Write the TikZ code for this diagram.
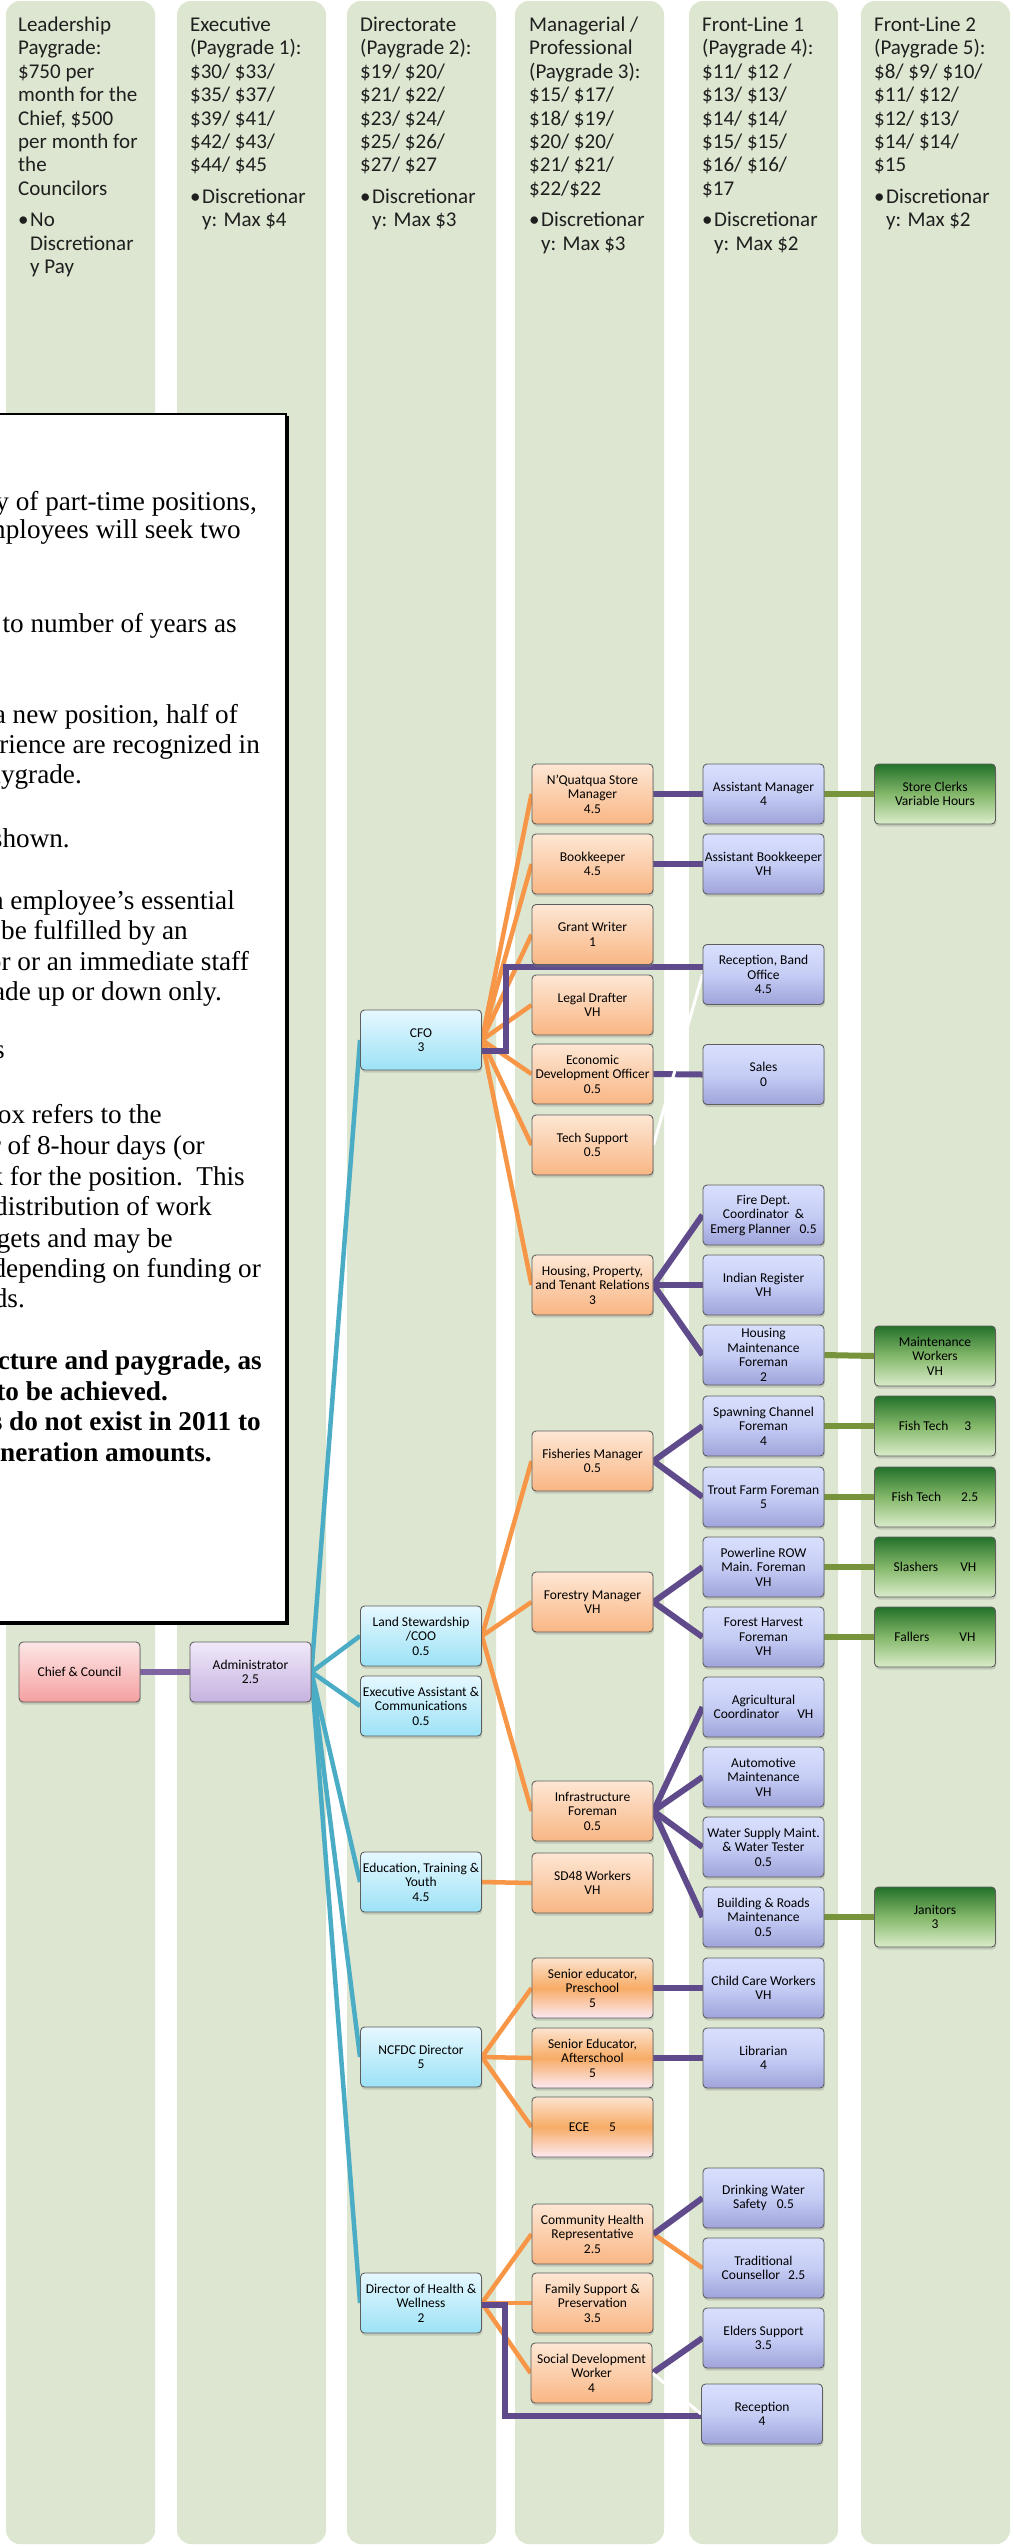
\documentclass[tikz,border=0pt]{standalone}
\usepackage{fontspec}
\setmainfont{Carlito}
\newfontfamily\serifTNR{Liberation Serif}
\usetikzlibrary{shadows}
\definecolor{colBg}{HTML}{DDE6D0}
\definecolor{edgeC}{HTML}{5E5E5E}
\definecolor{cTeal}{HTML}{4BACC6}
\definecolor{cOrange}{HTML}{F79646}
\definecolor{cPurp}{HTML}{5F4B8B}
\definecolor{cPurpL}{HTML}{8064A2}
\definecolor{cOlive}{HTML}{77933C}
\definecolor{redT}{HTML}{FDE6E6}
\definecolor{redB}{HTML}{F5A0A0}
\definecolor{lavT}{HTML}{F0E9F9}
\definecolor{lavB}{HTML}{C6B2E0}
\definecolor{cyT}{HTML}{E6F8FF}
\definecolor{cyB}{HTML}{9CE2F6}
\definecolor{orT}{HTML}{FDE7D4}
\definecolor{orB}{HTML}{F9B684}
\definecolor{seT}{HTML}{FCE3CE}
\definecolor{seM}{HTML}{F7AC66}
\definecolor{seB}{HTML}{FCE9F3}
\definecolor{blT}{HTML}{D9E0FD}
\definecolor{blM}{HTML}{C6CDF5}
\definecolor{blB}{HTML}{9FA3DA}
\definecolor{grT}{HTML}{23712A}
\definecolor{grM}{HTML}{84B86A}
\definecolor{grB}{HTML}{DAECCB}
\pgfdeclarelayer{bg}
\pgfdeclarelayer{lines}
\pgfsetlayers{bg,lines,main}
\begin{document}
\begin{tikzpicture}[x=1pt,y=-1pt,
  box/.style={rounded corners=4pt, draw=edgeC, line width=0.9pt,
    minimum width=121pt, minimum height=60pt, inner sep=1pt, align=center,
    font=\fontsize{13.5}{14.5}\selectfont, text=black,
    drop shadow={opacity=0.3, shadow xshift=0.8pt, shadow yshift=-2.5pt}},
  bxRed/.style={box, top color=redT, bottom color=redB},
  bxLav/.style={box, top color=lavT, bottom color=lavB},
  bxCy/.style={box, top color=cyT, bottom color=cyB},
  bxOr/.style={box, top color=orT, bottom color=orB},
  bxSe/.style={box, top color=seT, bottom color=seB, middle color=seM},
  bxBl/.style={box, top color=blT, bottom color=blB, middle color=blM},
  bxGr/.style={box, top color=grT, bottom color=grB, middle color=grM},
  hdr/.style={anchor=base west, inner sep=0pt, font=\fontsize{21}{23.4}\selectfont, text=black!88},
  tbl/.style={anchor=base east, inner sep=0pt, font=\serifTNR\fontsize{27.2}{31}\selectfont, text=black},
  colbox/.style={fill=colBg, rounded corners=14pt},
  lnTeal/.style={draw=cTeal, line width=4.5pt},
  lnOr/.style={draw=cOrange, line width=4.5pt},
  lnPu/.style={draw=cPurp, line width=6pt},
  lnPuL/.style={draw=cPurpL, line width=6pt},
  lnOl/.style={draw=cOlive, line width=6pt},
  lnWh/.style={draw=white, line width=3pt}
]
\useasboundingbox (0,0) rectangle (1014,2546);

% ---------- columns and text box ----------
\begin{pgfonlayer}{bg}
\fill[white] (0,0) rectangle (1014,2546);
\foreach \cl [count=\c] in {6,177,347,515,689,861}
  \path[colbox] (\cl,1) rectangle ++(149,2543);
\fill[black] (-20,416) rectangle (288.5,1624.5);
\draw[fill=white, draw=black, line width=2pt] (-20,414) rectangle (286,1622);
\end{pgfonlayer}

\foreach \rx/\by/\tx [count=\k] in {
  257/510/{ty of part-time positions,},
  241/538/{mployees will seek two},
  237/632/{r to number of years as},
  238/723/{a new position, half of},
  260/753/{xperience are recognized in},
  82/783/{paygrade.},
  70/847/{shown.},
  235/909/{an employee’s essential},
  188/939/{be fulfilled by an},
  249/970/{sor or an immediate staff},
  222/1000/{grade up or down only.},
  5/1058/{s},
  162/1123/{box refers to the},
  205/1154/{er of 8-hour days (or},
  245/1185/{week for the position.~~This},
  212/1215/{distribution of work},
  173/1247/{targets and may be},
  261/1277/{depending on funding or},
  25/1307/{needs.},
  262/1369/{\bfseries structure and paygrade, as},
  168/1400/{\bfseries to be achieved.},
  261/1430/{\bfseries positions do not exist in 2011 to},
  212/1461/{\bfseries remuneration amounts.}}
  \node[tbl, name=tb\k] at (\rx,\by) {\tx};

% ---------- column headers ----------
\node[hdr] (hd1) at (18,31.5) {\begin{tabular}[t]{@{}l@{}}Leadership\\Paygrade:\\\$750 per\\month for the\\Chief, \$500\\per month for\\the\\Councilors\\[8pt]\makebox[12pt][l]{•}No\\\hspace{12pt}Discretionar\\\hspace{12pt}y Pay\end{tabular}};
\node[hdr] (hd2) at (190,31.5) {\begin{tabular}[t]{@{}l@{}}Executive\\(Paygrade 1):\\\$30/ \$33/\\\$35/ \$37/\\\$39/ \$41/\\\$42/ \$43/\\\$44/ \$45\\[8pt]\makebox[12pt][l]{•}Discretionar\\\hspace{12pt}y: Max \$4\end{tabular}};
\node[hdr] (hd3) at (360,31.5) {\begin{tabular}[t]{@{}l@{}}Directorate\\(Paygrade 2):\\\$19/ \$20/\\\$21/ \$22/\\\$23/ \$24/\\\$25/ \$26/\\\$27/ \$27\\[8pt]\makebox[12pt][l]{•}Discretionar\\\hspace{12pt}y: Max \$3\end{tabular}};
\node[hdr] (hd4) at (529,31.5) {\begin{tabular}[t]{@{}l@{}}Managerial /\\Professional\\(Paygrade 3):\\\$15/ \$17/\\\$18/ \$19/\\\$20/ \$20/\\\$21/ \$21/\\\$22/\$22\\[8pt]\makebox[12pt][l]{•}Discretionar\\\hspace{12pt}y: Max \$3\end{tabular}};
\node[hdr] (hd5) at (702,31.5) {\begin{tabular}[t]{@{}l@{}}Front-Line 1\\(Paygrade 4):\\\$11/ \$12 /\\\$13/ \$13/\\\$14/ \$14/\\\$15/ \$15/\\\$16/ \$16/\\\$17\\[8pt]\makebox[12pt][l]{•}Discretionar\\\hspace{12pt}y: Max \$2\end{tabular}};
\node[hdr] (hd6) at (874,31.5) {\begin{tabular}[t]{@{}l@{}}Front-Line 2\\(Paygrade 5):\\\$8/ \$9/ \$10/\\\$11/ \$12/\\\$12/ \$13/\\\$14/ \$14/\\\$15\\[8pt]\makebox[12pt][l]{•}Discretionar\\\hspace{12pt}y: Max \$2\end{tabular}};

% ---------- nodes ----------
\node[bxRed] (chief) at (79.5,1672) {Chief \& Council};
\node[bxLav] (admin) at (250.5,1672) {Administrator\\2.5};

\node[bxCy] (cfo) at (421,1040) {CFO\\3};
\node[bxCy] (ls)  at (421,1636) {Land Stewardship\\/COO\\0.5};
\node[bxCy] (exa) at (421,1706) {Executive Assistant \&\\Communications\\0.5};
\node[bxCy] (edu) at (421,1882) {Education, Training \&\\Youth\\4.5};
\node[bxCy] (ncf) at (421,2057) {NCFDC Director\\5};
\node[bxCy] (doh) at (421,2303) {Director of Health \&\\Wellness\\2};

\node[bxOr] (nq)  at (592.5,794)  {N'Quatqua Store\\Manager\\4.5};
\node[bxOr] (bk)  at (592.5,864)  {Bookkeeper\\4.5};
\node[bxOr] (gw)  at (592.5,934.5){Grant Writer\\1};
\node[bxOr] (ld)  at (592.5,1005) {Legal Drafter\\VH};
\node[bxOr] (ed)  at (592.5,1074) {Economic\\Development Officer\\0.5};
\node[bxOr] (ts)  at (592.5,1145) {Tech Support\\0.5};
\node[bxOr] (hp)  at (592.5,1285) {Housing, Property,\\and Tenant Relations\\3};
\node[bxOr] (fm)  at (592.5,1461) {Fisheries Manager\\0.5};
\node[bxOr] (fo)  at (592.5,1602) {Forestry Manager\\VH};
\node[bxOr] (inf) at (592.5,1811) {Infrastructure\\Foreman\\0.5};
\node[bxOr] (sd)  at (592.5,1883) {SD48 Workers\\VH};
\node[bxSe] (sp)  at (592.5,1988) {Senior educator,\\Preschool\\5};
\node[bxSe] (sa)  at (592.5,2058) {Senior Educator,\\Afterschool\\5};
\node[bxSe] (ece) at (592.5,2127) {ECE\hspace{20pt}5};
\node[bxOr] (ch)  at (592.5,2234) {Community Health\\Representative\\2.5};
\node[bxOr] (fs)  at (592.5,2303) {Family Support \&\\Preservation\\3.5};
\node[bxOr] (sdw) at (591.5,2373) {Social Development\\Worker\\4};

\node[bxBl] (am)  at (763.5,794)   {Assistant Manager\\4};
\node[bxBl] (ab)  at (763.5,864)   {Assistant Bookkeeper\\VH};
\node[bxBl] (rbo) at (763.5,974.5) {Reception, Band\\Office\\4.5};
\node[bxBl] (sal) at (763.5,1074.5){Sales\\0};
\node[bxBl] (fire) at (763.5,1215) {Fire Dept.\\Coordinator\ \ \&\\Emerg Planner\hspace{9pt}0.5};
\node[bxBl] (ir)  at (763.5,1285)  {Indian Register\\VH};
\node[bxBl] (hm)  at (763.5,1355)  {Housing\\Maintenance\\Foreman\\2};
\node[bxBl] (spc) at (763.5,1426)  {Spawning Channel\\Foreman\\4};
\node[bxBl] (tf)  at (763.5,1497)  {Trout Farm Foreman\\5};
\node[bxBl] (pl)  at (763.5,1567)  {Powerline ROW\\Main. Foreman\\VH};
\node[bxBl] (fh)  at (763.5,1637)  {Forest Harvest\\Foreman\\VH};
\node[bxBl] (agr) at (763.5,1707)  {Agricultural\\Coordinator\hspace{18pt}VH};
\node[bxBl] (aut) at (763.5,1777)  {Automotive\\Maintenance\\VH};
\node[bxBl] (ws)  at (763.5,1847)  {Water Supply Maint.\\\& Water Tester\\0.5};
\node[bxBl] (br)  at (763.5,1917)  {Building \& Roads\\Maintenance\\0.5};
\node[bxBl] (cc)  at (763.5,1988)  {Child Care Workers\\VH};
\node[bxBl] (lib) at (763.5,2058)  {Librarian\\4};
\node[bxBl] (dw)  at (763.5,2198)  {Drinking Water\\Safety\hspace{10pt}0.5};
\node[bxBl] (tc)  at (763.5,2268)  {Traditional\\Counsellor\hspace{8pt}2.5};
\node[bxBl] (es)  at (763.5,2338)  {Elders Support\\3.5};
\node[bxBl] (rec) at (762,2414)    {Reception\\4};

\node[bxGr] (sc)  at (935,794)  {Store Clerks\\Variable Hours};
\node[bxGr] (mw)  at (935,1356) {Maintenance\\Workers\\VH};
\node[bxGr] (ft1) at (935,1426) {Fish Tech\hspace{16pt}3};
\node[bxGr] (ft2) at (935,1497) {Fish Tech\hspace{20pt}2.5};
\node[bxGr] (sl)  at (935,1567) {Slashers\hspace{22pt}VH};
\node[bxGr] (fa)  at (935,1637) {Fallers\hspace{30pt}VH};
\node[bxGr] (jan) at (935,1917) {Janitors\\3};

% ---------- connectors ----------
\begin{pgfonlayer}{lines}
\draw[lnPuL] (chief.east) -- (admin.west);
\foreach \t in {cfo,ls,exa,edu,ncf,doh}
  \draw[lnTeal] (admin.east) -- (\t.west);
\foreach \t in {nq,bk,gw,ld,ed,ts,hp}
  \draw[lnOr] (cfo.east) -- (\t.west);
\foreach \t in {fm,fo,inf}
  \draw[lnOr] (ls.east) -- (\t.west);
\draw[lnOr] (edu.east) -- (sd.west);
\foreach \t in {sp,sa,ece}
  \draw[lnOr] (ncf.east) -- (\t.west);
\foreach \t in {ch,fs,sdw}
  \draw[lnOr] (doh.east) -- (\t.west);
\draw[lnOr] (ch.east) -- (tc.west);
\foreach \s/\t in {nq/am,bk/ab,ed/sal,hp/fire,hp/ir,hp/hm,fm/spc,fm/tf,fo/pl,fo/fh,inf/agr,inf/aut,inf/ws,inf/br,sp/cc,sa/lib,ch/dw,sdw/es}
  \draw[lnPu] (\s.east) -- (\t.west);
\draw[lnPu] ([yshift=-11pt]cfo.east) -- ++(24,0) |- ([yshift=7.5pt]rbo.west);
\draw[lnPu] ([yshift=-2pt]doh.east) -- ++(23,0) |- ([yshift=-2pt]rec.west);
\draw[lnWh] (ts.east) -- (rbo.west);
\draw[lnWh] (sdw.east) -- (rec.west);
\foreach \s/\t in {am/sc,hm/mw,spc/ft1,tf/ft2,pl/sl,fh/fa,br/jan}
  \draw[lnOl] (\s.east) -- (\t.west);
\end{pgfonlayer}
\end{tikzpicture}
\end{document}
